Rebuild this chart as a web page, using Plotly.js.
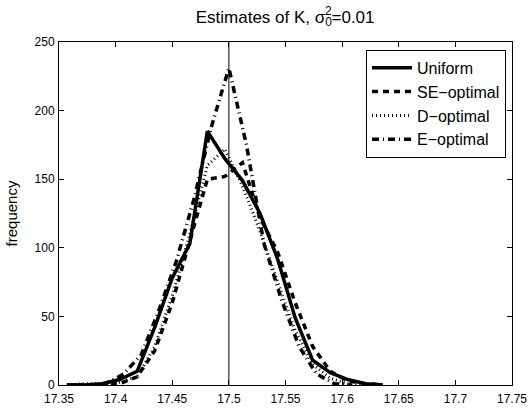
<!DOCTYPE html>
<html><head><meta charset="utf-8">
<script src="https://cdn.plot.ly/plotly-3.0.1.min.js"></script>
<style>body{margin:0;background:#fff}</style></head><body>
<div id="chart" style="width:530px;height:414px"></div>
<script>
const binsA = [17.357,17.3725,17.388,17.4035,17.419,17.4345,17.45,17.4655,17.481,17.4965,17.512,17.5275,17.543,17.5585,17.574,17.5895,17.605,17.6205,17.636];
const uniformVals = [0,0,1,4,10,42,78,103,185,165,149,125,92,49,18,9,4,1,0];
const seVals      = [0,0,0,1,6,25,60,105,150,152,162,122,97,60,28,10,3,1,0];
const dVals       = [0,1,1,2,6,28,65,110,160,172,145,112,75,40,15,5,1,0,0];
const binsE = [17.3605,17.376,17.3915,17.407,17.4225,17.438,17.4535,17.469,17.4845,17.5,17.5155,17.531,17.5465,17.562,17.5775,17.593,17.6085];
const eVals = [0,0,1,8,22,54,90,135,188,231,175,103,62,28,8,1,0];
const trueK = [17.5];
const xTicks = [17.35,17.4,17.45,17.5,17.55,17.6,17.65,17.7,17.75];
const xTickText = ["17.35","17.4","17.45","17.5","17.55","17.6","17.65","17.7","17.75"];
const yTicks = [0,50,100,150,200,250];

const font = "Liberation Sans, Arial, sans-serif";
const traces = [
  {x: binsA, y: uniformVals, name: "Uniform", mode: "lines", line: {color: "#000", width: 3.5}},
  {x: binsA, y: seVals, name: "SE\u2212optimal", mode: "lines", line: {color: "#000", width: 3.5, dash: "6px,5px"}},
  {x: binsA, y: dVals, name: "D\u2212optimal", mode: "lines", line: {color: "#000", width: 3, dash: "1px,3px"}},
  {x: binsE, y: eVals, name: "E\u2212optimal", mode: "lines", line: {color: "#000", width: 3.5, dash: "7px,4px,1px,4px"}}
];
const axisCommon = {
  showline: true, linecolor: "#000", linewidth: 1, mirror: "ticks",
  ticks: "inside", ticklen: 5, tickcolor: "#000", showgrid: false, zeroline: false,
  tickfont: {family: font, size: 12, color: "#000"}
};
const layout = {
  width: 530, height: 414,
  margin: {l: 59, r: 18, t: 42, b: 29},
  paper_bgcolor: "#fff", plot_bgcolor: "#fff",
  title: {text: 'Estimates of K, \u03c3<sub><span style="letter-spacing:-7px">0</span></sub><sup>2</sup>=0.01',
          font: {family: font, size: 17, color: "#000"}, x: 0.538, xanchor: "center", y: 0.96, yanchor: "middle"},
  xaxis: Object.assign({}, axisCommon, {range: [17.35, 17.75], tickvals: xTicks, ticktext: xTickText, ticklabelstandoff: 3}),
  yaxis: Object.assign({}, axisCommon, {range: [0, 250], tickvals: yTicks, ticklabelstandoff: 1,
          title: {text: "frequency", font: {family: font, size: 15, color: "#000"}, standoff: 13}}),
  legend: {x: 0.9868, xanchor: "right", y: 0.977, yanchor: "top", bgcolor: "#fff",
           bordercolor: "#000", borderwidth: 1, font: {family: font, size: 16, color: "#000"},
           itemwidth: 40, tracegroupgap: 0},
  shapes: [{type: "line", xref: "x", yref: "paper", x0: trueK[0], x1: trueK[0], y0: 0, y1: 1,
            line: {color: "#000", width: 1}}],
  showlegend: true
};
Plotly.newPlot("chart", traces, layout, {displayModeBar: false, staticPlot: true});
</script>
</body></html>
